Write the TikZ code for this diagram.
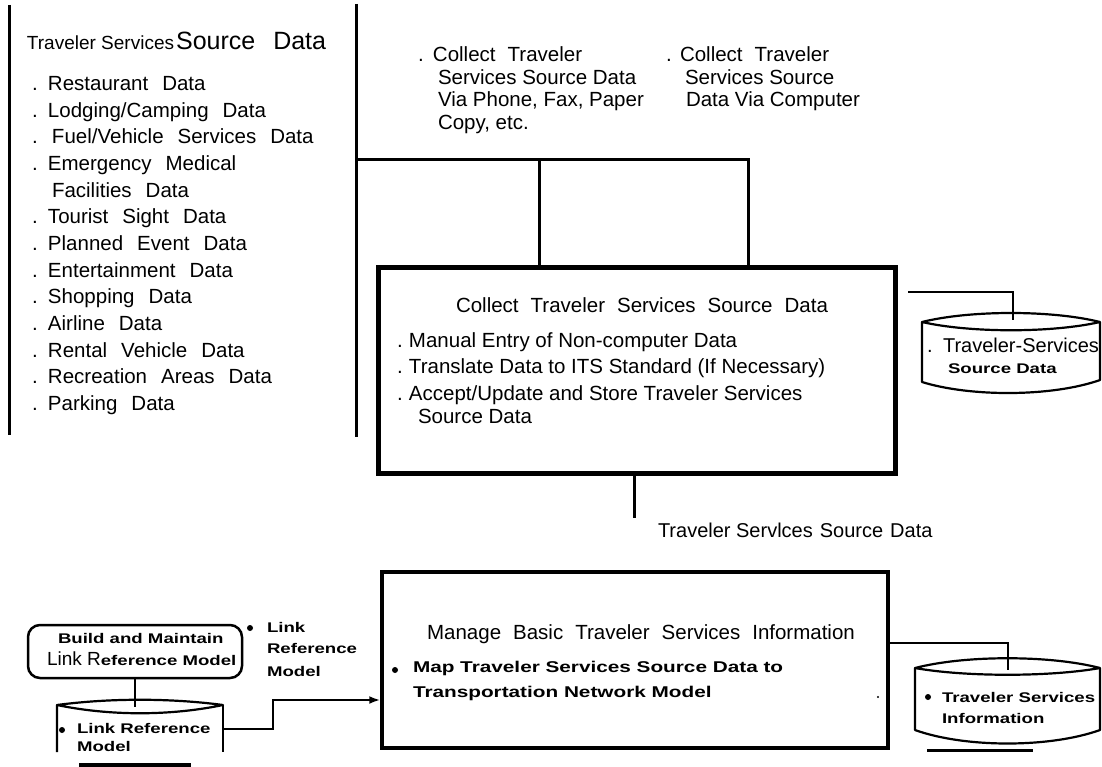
\documentclass[tikz,border=0pt]{standalone}
\usepackage{fontspec}
\setmainfont{Liberation Sans}
\newfontfamily\wideb[FakeStretch=1.33]{Liberation Sans}
\usetikzlibrary{arrows.meta}
\newcommand\lsdot[1][16pt]{\makebox[#1][l]{.}}
\newcommand\wsp[1]{\spaceskip=#1\relax}
\begin{document}
\begin{tikzpicture}[x=1pt,y=-1pt,
  txt/.style={anchor=base west, inner sep=0pt, outer sep=0pt},
  ctxt/.style={anchor=base, inner sep=0pt, outer sep=0pt},
  reg/.style={font=\fontsize{20.5}{20.5}\selectfont},
  regw/.style={font=\fontsize{20.5}{20.5}\selectfont\wsp{12pt}},
  listf/.style={font=\fontsize{20.5}{20.5}\selectfont\wsp{14pt}},
  boldf/.style={font=\wideb\bfseries\fontsize{14}{14}\selectfont},
  boldm/.style={font=\wideb\bfseries\fontsize{15.6}{15.6}\selectfont},
  rulel/.style={line width=3pt},
  conn/.style={line width=3pt},
  connthin/.style={line width=2.2pt},
  cyl/.style={line width=2.2pt, line join=round},
  procbox/.style={draw, inner sep=0pt}]
\useasboundingbox (0,0) rectangle (1102,767);

% left frame rules
\coordinate (vla) at (9,5); \coordinate (vlb) at (9,435);
\draw[rulel] (vla) -- (vlb);
\coordinate (vma) at (356,4); \coordinate (vmb) at (356,437);
\draw[rulel] (vma) -- (vmb);

% left list
\node[txt] (hdr) at (27,49.5) {{\fontsize{19}{19}\selectfont Traveler Services}\hspace{2pt}{\fontsize{25}{25}\selectfont Source\hspace{18pt}Data}};
\foreach \t [count=\i] in {
  \lsdot Restaurant Data,
  \lsdot Lodging/Camping Data,
  \lsdot[20pt]Fuel/Vehicle Services Data,
  \lsdot Emergency Medical,
  \hspace*{20pt}Facilities Data,
  \lsdot Tourist Sight Data,
  \lsdot Planned Event Data,
  \lsdot Entertainment Data,
  \lsdot Shopping Data,
  \lsdot Airline Data,
  \lsdot Rental Vehicle Data,
  \lsdot Recreation Areas Data,
  \lsdot Parking Data}
  \node[txt, listf] (li\i) at (32, {90.7+26.65*(\i-1)}) {\t};

% top source texts
\node[txt, reg] (sa1) at (418,62) {\lsdot[15pt]Collect\hspace{12pt}Traveler};
\node[txt, reg] (sa2) at (438,85) {Services Source Data};
\node[txt, reg] (sa3) at (438,107) {Via Phone, Fax, Paper};
\node[txt, reg] (sa4) at (438,130) {Copy, etc.};
\node[txt, reg] (sb1) at (666,62) {\lsdot[14pt]Collect\hspace{12pt}Traveler};
\node[txt, reg] (sb2) at (685,85) {Services Source};
\node[txt, reg] (sb3) at (686,107) {Data Via Computer};

% collect process box
\node[procbox, line width=5pt, minimum width=517pt, minimum height=206pt] (collect) at (636.5,370) {};
\node[ctxt, regw] (ctitle) at (642,312) {Collect Traveler Services Source Data};
\node[txt, reg] (cl1) at (397,347) {\lsdot[12pt]Manual Entry of Non-computer Data};
\node[txt, reg] (cl2) at (397,373) {\lsdot[12pt]Translate Data to ITS Standard (If Necessary)};
\node[txt, reg] (cl3) at (397,400) {\lsdot[12pt]Accept/Update and Store Traveler Services};
\node[txt, reg] (cl4) at (418,423) {Source Data};

% inputs to collect box
\coordinate (hub) at (356,160); \coordinate (j1) at (539,160); \coordinate (j2) at (748,160);
\draw[conn] (hub) -- (j2) -- (j2 |- collect.north);
\draw[conn] (j1) -- (j1 |- collect.north);

% output flow
\coordinate (tsd) at (634,518);
\draw[conn] (tsd |- collect.south) -- (tsd);
\node[txt, font=\fontsize{20}{20}\selectfont] (tsdlab) at (658,537) {Traveler Servlces\hspace{7pt}Source\hspace{7pt}Data};

% data store 1
\draw[cyl] (922,322) .. controls (970,310) and (1052,310) .. (1100,322)
  .. controls (1052,333) and (970,333) .. (922,322) -- (922,382)
  .. controls (970,397) and (1052,397) .. (1100,380) -- (1100,322);
\coordinate (c1s) at (908,292); \coordinate (ds1top) at (1013,320);
\draw[connthin] (c1s) -| (ds1top);
\node[txt, font=\fontsize{20}{20}\selectfont] (d1a) at (927,352) {\lsdot Traveler-Services};
\node[txt, boldf] (d1b) at (948,373) {Source Data};

% manage process box
\node[procbox, line width=3.5pt, minimum width=506pt, minimum height=176pt] (manage) at (635,660) {};
\node[ctxt, regw] (mtitle) at (641,639) {Manage Basic Traveler Services Information};
\fill (395,670) circle (3pt);
\node[txt, boldm] (ml1) at (413,672) {Map Traveler Services Source Data to};
\node[txt, boldm] (ml2) at (413,697) {Transportation Network Model};
\fill (878,697) circle (1.2pt);

% data store 2
\draw[cyl] (915,668) .. controls (965,655) and (1050,655) .. (1100,668)
  .. controls (1050,677) and (965,677) .. (915,668) -- (915,730)
  .. controls (965,748) and (1050,748) .. (1100,730) -- (1100,668);
\coordinate (ds2top) at (1008,670);
\draw[connthin] ([yshift=17pt]manage.east) -| (ds2top);
\fill (928,697) circle (3pt);
\node[txt, boldf] (d2a) at (942,702) {Traveler Services};
\node[txt, boldf] (d2b) at (942,723) {Information};
\draw[line width=3pt] (927,750) -- (1033,750);

% build box
\node[procbox, line width=2.5pt, rounded corners=12pt, minimum width=214pt, minimum height=53pt] (build) at (135,651.5) {};
\node[txt, boldf] (bl1) at (58,643) {Build and Maintain};
\node[txt] (bl2) at (47,665) {{\fontsize{19}{19}\selectfont Link R}{\wideb\bfseries\fontsize{14}{14}\selectfont eference Model}};

% link reference label
\fill (250,628) circle (3pt);
\node[txt, boldf] (lr1) at (267,632) {Link};
\node[txt, boldf] (lr2) at (267,653) {Reference};
\node[txt, boldf] (lr3) at (267,676) {Model};

% data store 3
\draw[cyl] (57,705) .. controls (110,698) and (170,698) .. (223,705)
  .. controls (170,716) and (110,716) .. (57,705) -- (57,752);
\draw[cyl] (223,705) -- (223,752);
\coordinate (ds3top) at (135,707);
\draw[connthin] (build.south) -- (ds3top);
\fill (62,730) circle (3pt);
\node[txt, boldf] (d3a) at (77,733) {Link Reference};
\node[txt, boldf] (d3b) at (77,751) {Model};
\draw[line width=4pt] (79,765) -- (191,765);
\coordinate (ds3r) at (223,729);
\draw[connthin, -{Latex[length=11pt,width=8pt]}] (ds3r) -- ++(50,0) |- ([yshift=-40pt]manage.west);
\end{tikzpicture}
\end{document}
